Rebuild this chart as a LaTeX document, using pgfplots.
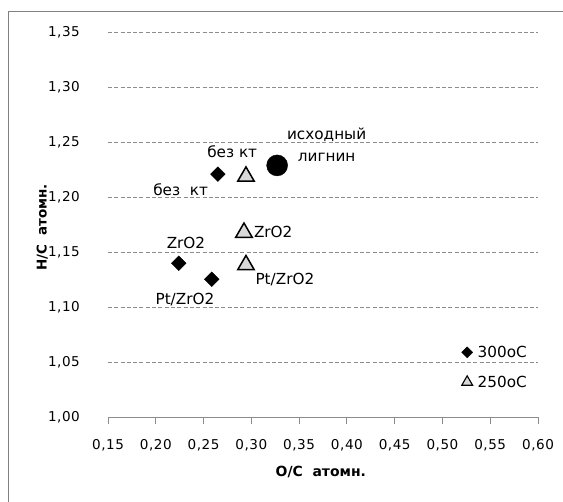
\documentclass[border=0pt]{standalone}
\usepackage{fontspec}
\setmainfont{DejaVu Sans}
\newfontfamily\tickfont[LetterSpace=4]{DejaVu Sans}
\usepackage{pgfplots}
\pgfplotsset{compat=1.18}
\definecolor{gridgray}{RGB}{140,140,140}
\definecolor{framegray}{RGB}{128,128,128}
\definecolor{trifill}{RGB}{217,217,217}
\newcommand{\labfont}{\fontsize{15.3}{18}\selectfont}
\pgfplotsset{
  legdia/.style={legend image code/.code={\draw[##1, mark size=3.9bp] plot coordinates {(0.2cm,0cm)};}},
  legtri/.style={legend image code/.code={\draw[##1, mark size=6.3bp, mark options={fill=trifill, draw=black, line width=1.1bp}] plot coordinates {(0.2cm,0cm)};}},
}
\begin{document}
\begin{tikzpicture}
\useasboundingbox (-108bp,-84.7bp) rectangle (455bp,417.3bp);
\draw[framegray, line width=0.8bp] (-100bp,-120bp) -- (-100bp,406.3bp) -- (480bp,406.3bp);
\begin{axis}[
  at={(0,0)}, anchor=south west, scale only axis,
  width=430bp, height=385bp,
  xmin=0.15, xmax=0.60, ymin=1.00, ymax=1.35,
  xtick={0.15,0.20,0.25,0.30,0.35,0.40,0.45,0.50,0.55,0.60},
  ytick={1.00,1.05,1.10,1.15,1.20,1.25,1.30,1.35},
  axis x line*=bottom, axis y line*=left,
  axis line style={-},
  x axis line style={draw=gridgray, line width=0.8bp},
  y axis line style={draw=none},
  ymajorgrids,
  grid style={draw=gridgray, dash pattern=on 4bp off 2.3bp, line width=0.7bp},
  tick align=outside,
  xtick style={draw=gridgray, line width=0.8bp},
  ytick style={draw=none},
  major tick length=7bp,
  /pgf/number format/.cd, use comma, fixed, fixed zerofill, precision=2, assume math mode=true,
  /pgfplots/.cd,
  ticklabel style={font=\tickfont\fontsize{13.6}{16}\selectfont, inner sep=0pt},
  yticklabel style={anchor=east, xshift=-21bp},
  xticklabel style={anchor=north, yshift=-15bp},
  xlabel={O/C\ \ атомн.},
  ylabel={H/C\ \ атомн.},
  xlabel style={font=\bfseries\fontsize{14}{16}\selectfont, at={(axis description cs:0.495,-0.141)}, anchor=center},
  ylabel style={font=\bfseries\fontsize{13.5}{16}\selectfont, at={(axis description cs:-0.153,0.493)}, anchor=center},
  legend style={draw=none, fill=none, at={(axis description cs:0.822,0.13)}, anchor=west,
    font=\labfont, row sep=13bp, inner sep=0pt,
    /tikz/every odd column/.append style={column sep=3bp}},
  legend cell align=left,
  clip=false,
]
\addplot[only marks, mark=square*, mark size=5.2bp,
  mark options={rotate=45, fill=black, draw=black}, legdia]
  coordinates {(0.265,1.221) (0.224,1.140) (0.2585,1.1255)};
\addlegendentry{300oC}
\addplot[only marks, mark=triangle*, mark size=9.5bp,
  mark options={fill=trifill, draw=black, line width=1.5bp}, legtri]
  coordinates {(0.2944,1.219) (0.2923,1.168) (0.2944,1.1385)};
\addlegendentry{250oC}
\addplot[only marks, mark=*, mark size=10.5bp, black, forget plot]
  coordinates {(0.327,1.229)};
\node[font=\labfont] at (axis cs:0.280,1.2415) {без кт};
\node[font=\labfont] at (axis cs:0.226,1.2073) {без\ \ кт};
\node[font=\labfont] at (axis cs:0.3788,1.2566) {исходный};
\node[font=\labfont] at (axis cs:0.3788,1.2364) {лигнин};
\node[font=\labfont] at (axis cs:0.3229,1.1687) {ZrO2};
\node[font=\labfont] at (axis cs:0.2316,1.1582) {ZrO2};
\node[font=\labfont] at (axis cs:0.3351,1.1255) {Pt/ZrO2};
\node[font=\labfont] at (axis cs:0.2305,1.1066) {Pt/ZrO2};
\end{axis}
\end{tikzpicture}
\end{document}
